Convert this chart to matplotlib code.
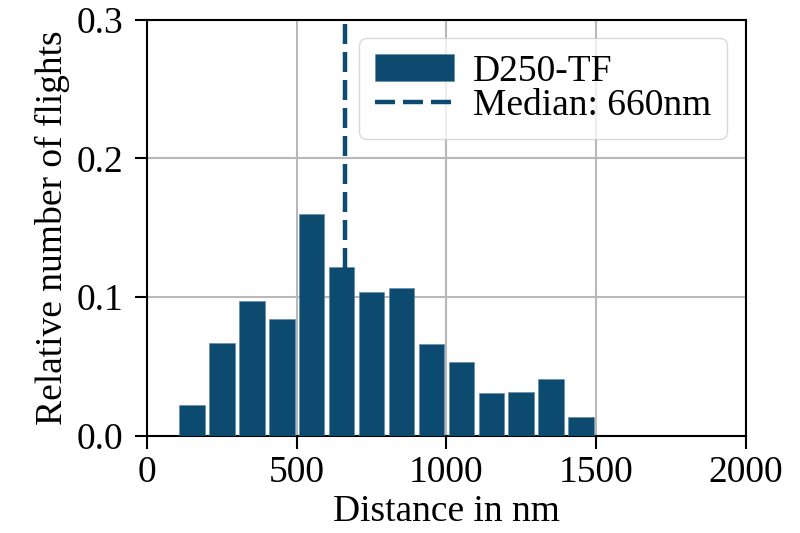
import matplotlib
matplotlib.use("Agg")
import matplotlib.pyplot as plt
import numpy as np

bin_edges = [100, 200, 300, 400, 500, 600, 700, 800, 900, 1000, 1100, 1200, 1300, 1400, 1500]
rel_counts = [0.022, 0.067, 0.097, 0.084, 0.160, 0.122, 0.104, 0.107, 0.066, 0.053, 0.031, 0.032, 0.041, 0.014]
median = 660
label_series = "D250-TF"
label_median = "Median: 660nm"
color = "#0d4a70"

plt.rcParams['font.family'] = ['Liberation Serif', 'DejaVu Serif']
plt.rcParams['font.size'] = 27

fig = plt.figure(figsize=(8, 5.33), dpi=100)
ax = fig.add_axes([0.184, 0.182, 0.748, 0.781])

edges = np.array(bin_edges)
centers = (edges[:-1] + edges[1:]) / 2
widths = np.diff(edges) * 0.85
bars = ax.bar(centers, rel_counts, width=widths, align='center', color=color,
              edgecolor='#5d86a3', linewidth=0.4, label=label_series, zorder=3)
mline = ax.axvline(median, color=color, linestyle='--', linewidth=3.2, dashes=(4.5, 1.8),
                   label=label_median, zorder=4)

ax.set_xlim(0, 2000)
ax.set_ylim(0, 0.3)
ax.set_xticks([0, 500, 1000, 1500, 2000])
ax.set_yticks([0.0, 0.1, 0.2, 0.3])
ax.set_yticklabels(['0.0', '0.1', '0.2', '0.3'])
ax.grid(True, color='#b8b8b8', linewidth=1.5, zorder=0)
ax.set_axisbelow(True)
ax.tick_params(direction='out', length=9, width=1.5, pad=5)
ax.tick_params(axis='y', pad=8)
for s in ax.spines.values():
    s.set_linewidth(1.5)
ax.set_xlabel("Distance in nm", labelpad=3)
ax.set_ylabel("Relative number of flights", labelpad=5)

leg = ax.legend([bars, mline], [label_series, label_median], loc='upper right', fontsize=27,
                handlelength=2.1, handletextpad=0.5, borderpad=0.42,
                labelspacing=0.0, framealpha=0.75, fancybox=True)

fig.savefig("out.png", dpi=100)
